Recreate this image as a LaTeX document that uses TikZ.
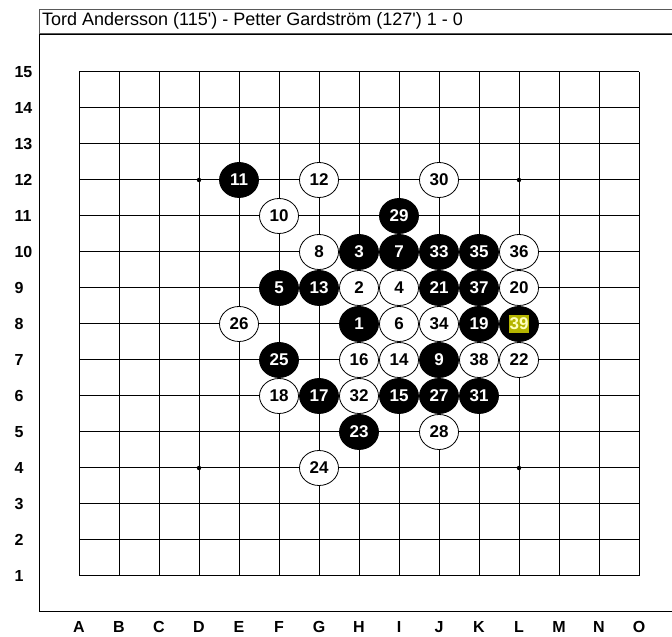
\documentclass[tikz,border=0pt]{standalone}
\usepackage{fontspec}
\setmainfont{Liberation Sans}
\usetikzlibrary{shapes.geometric}
\definecolor{markyellow}{RGB}{181,181,0}
\definecolor{marktext}{RGB}{255,255,190}
\tikzset{
  stone/.style={ellipse, minimum width=39pt, minimum height=35pt, inner sep=0pt,
    line width=0.8pt, font=\fontsize{17}{17}\selectfont\bfseries},
  blackstone/.style={stone, draw=black, fill=black, text=white},
  whitestone/.style={stone, draw=black, fill=white, text=black},
  boardlabel/.style={font=\fontsize{16}{16}\selectfont\bfseries},
  collabel/.style={boardlabel, text height=1.5ex, text depth=0pt, inner sep=1pt},
}
\begin{document}
\begin{tikzpicture}[x=40pt, y=36pt]
  \useasboundingbox (-0.975,-0.694) rectangle (15.825,17);
  % title bar
  \draw[gray!70!black, line width=0.8pt] (0,16.083) rectangle (16,16.75);
  \node[anchor=west, inner sep=0pt, font=\fontsize{18}{20}\selectfont] (title) at (0.075,16.42)
    {Tord Andersson (115\textquotesingle) - Petter Gardström (127\textquotesingle) 1 - 0};
  % frame
  \draw[line width=1pt] (16,16.03) -- (0,16.03) -- (0,0) -- (16,0);
  % grid
  \foreach \i in {1,...,15} {
    \draw[line width=1pt] (\i,1) -- (\i,15);
    \draw[line width=1pt] (1,\i) -- (15,\i);
    \node[boardlabel, anchor=west] (row\i) at (-0.7,\i) {\i};
  }
  \foreach \l [count=\i] in {A,B,C,D,E,F,G,H,I,J,K,L,M,N,O}
    \node[collabel] (col\l) at (\i,-0.46) {\l};
  % star points
  \foreach \p in {(4,4),(12,4),(4,12),(12,12)}
    \fill \p circle (2.2pt);
  % stones
  \foreach \n/\c/\r in {1/8/8, 3/8/10, 5/6/9, 7/9/10, 9/10/7, 11/5/12, 13/7/9, 15/9/6,
      17/7/6, 19/11/8, 21/10/9, 23/8/5, 25/6/7, 27/10/6, 29/9/11, 31/11/6, 33/10/10,
      35/11/10, 37/11/9}
    \node[blackstone] (s\n) at (\c,\r) {\n};
  \foreach \n/\c/\r in {2/8/9, 4/9/9, 6/9/8, 8/7/10, 10/6/11, 12/7/12, 14/9/7, 16/8/7,
      18/6/6, 20/12/9, 22/12/7, 24/7/4, 26/5/8, 28/10/5, 30/10/12, 32/8/6, 34/10/8,
      36/12/10, 38/11/7}
    \node[whitestone] (s\n) at (\c,\r) {\n};
  % last move
  \node[blackstone] (s39) at (12,8) {};
  \node[fill=markyellow, text=marktext, inner xsep=1pt, inner ysep=3pt,
    font=\fontsize{17}{17}\selectfont\bfseries] (mark39) at (s39) {39};
\end{tikzpicture}
\end{document}
